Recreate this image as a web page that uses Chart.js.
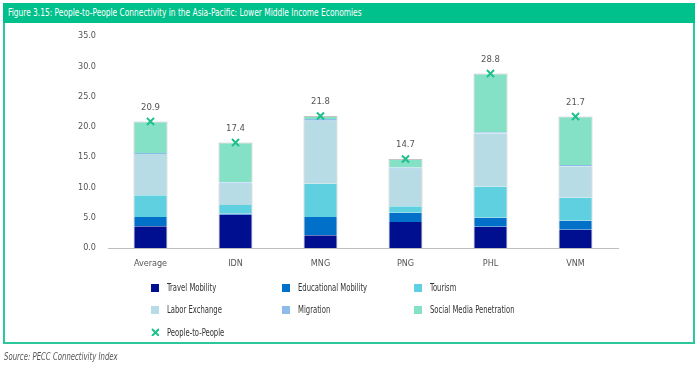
<!DOCTYPE html>
<html>
<head>
<meta charset="utf-8">
<script src="https://cdn.jsdelivr.net/npm/chart.js@4"></script>
<style>
	body { margin: 0; background: #fff; font-family: "DejaVu Sans Condensed", "Liberation Sans", sans-serif; }
	#page { position: relative; width: 700px; height: 367px; overflow: hidden; }
	#frame { position: absolute; left: 3px; top: 3px; width: 688px; height: 339px; border: 2px solid #2cc79a; border-top: none; }
	#header { position: absolute; left: 3px; top: 3px; width: 692px; height: 20px; background: #00c08b; color: #fff; font-size: 10px; line-height: 20px; padding-left: 5px; box-sizing: border-box; white-space: nowrap; }
	.squeeze { display: inline-block; transform-origin: 0 50%; }
	#chartBox { position: absolute; left: 0; top: 0; width: 700px; height: 280px; }
	#legend { position: absolute; left: 0; top: 0; width: 700px; height: 367px; pointer-events: none; }
	.item { position: absolute; font-size: 10px; color: #333; white-space: nowrap; line-height: 12px; }
	.box { position: absolute; width: 8px; height: 8px; left: 0; top: 2px; }
	.item .squeeze { position: absolute; left: 16px; top: 0; transform: scaleX(0.76); }
	#source { position: absolute; left: 4px; top: 351px; font-size: 10px; font-style: italic; color: #555; white-space: nowrap; }
</style>
</head>
<body>
<div id="page">
	<div id="frame"></div>
	<div id="header"><span class="squeeze" style="transform: scaleX(0.83)">Figure 3.15: People-to-People Connectivity in the Asia-Pacific: Lower Middle Income Economies</span></div>
	<div id="chartBox"><canvas id="chart"></canvas></div>
	<div id="legend"></div>
	<div id="source"><span class="squeeze" style="transform: scaleX(0.77)">Source: PECC Connectivity Index</span></div>
</div>
<script>
const economies = ['Average', 'IDN', 'MNG', 'PNG', 'PHL', 'VNM'];
const travelMobility = [3.6, 5.5, 2.1, 4.3, 3.5, 3.0];
const educationalMobility = [1.5, 0.2, 3.0, 1.5, 1.5, 1.5];
const tourism = [3.6, 1.4, 5.5, 1.1, 5.1, 3.8];
const laborExchange = [6.8, 3.5, 10.4, 6.2, 8.8, 5.2];
const migration = [0.2, 0.2, 0.3, 0.2, 0.2, 0.2];
const socialMedia = [5.2, 6.6, 0.5, 1.4, 9.7, 8.0];
const peopleToPeople = [20.9, 17.4, 21.8, 14.7, 28.8, 21.7];
const yTicks = [0, 5, 10, 15, 20, 25, 30, 35];

const seriesNames = ['Travel Mobility', 'Educational Mobility', 'Tourism', 'Labor Exchange', 'Migration', 'Social Media Penetration'];
const seriesData = [travelMobility, educationalMobility, tourism, laborExchange, migration, socialMedia];
const seriesColors = ['#000f8f', '#0070c9', '#5ed0e0', '#b8dce6', '#8dbceb', '#84e1c6'];
const markerColor = '#1bc08a';

const FONT = '"DejaVu Sans Condensed", "Liberation Sans", sans-serif';

let datasets = seriesNames.map(function (name, i) {
	return {
		type: 'bar',
		label: name,
		data: seriesData[i],
		backgroundColor: seriesColors[i],
		borderColor: 'rgba(190,190,190,0.9)',
		borderWidth: i === 5 ? { top: 1, left: 1, right: 1 } : { left: 1, right: 1 },
		borderSkipped: false,
		barPercentage: 0.4,
		categoryPercentage: 1,
		order: 1
	};
});
datasets.push({
	type: 'line',
	label: 'People-to-People',
	data: peopleToPeople,
	showLine: false,
	pointStyle: 'crossRot',
	pointRadius: 5,
	pointBorderWidth: 2,
	borderColor: markerColor,
	backgroundColor: markerColor,
	order: 0
});

const totalLabels = {
	id: 'totalLabels',
	afterDatasetsDraw(chart) {
		const meta = chart.getDatasetMeta(6);
		const ctx = chart.ctx;
		ctx.save();
		ctx.font = '9.5px ' + FONT;
		ctx.fillStyle = '#555';
		ctx.textAlign = 'center';
		ctx.textBaseline = 'middle';
		meta.data.forEach(function (pt, i) {
			ctx.fillText(peopleToPeople[i].toFixed(1), pt.x, pt.y - 14);
		});
		ctx.restore();
	}
};

new Chart(document.getElementById('chart'), {
	data: {
		labels: economies,
		datasets: datasets
	},
	plugins: [totalLabels],
	options: {
		responsive: true,
		maintainAspectRatio: false,
		animation: false,
		layout: { padding: { top: 36, right: 82, left: 0, bottom: 0 } },
		plugins: {
			legend: { display: false },
			tooltip: { enabled: false }
		},
		scales: {
			x: {
				stacked: true,
				grid: { display: false, drawTicks: false },
				border: { display: true, color: '#bfbfbf', width: 1 },
				ticks: { color: '#555', font: { family: FONT, size: 9 }, padding: 10 },
				afterFit: function (scale) { scale.height = 32; }
			},
			y: {
				stacked: true,
				min: 0,
				max: 35,
				afterBuildTicks: function (scale) { scale.ticks = yTicks.map(function (v) { return { value: v }; }); },
				grid: { display: false, drawTicks: false },
				border: { display: false },
				ticks: {
					color: '#555',
					font: { family: FONT, size: 9 },
					padding: 12,
					callback: function (v) { return Number(v).toFixed(1); }
				},
				afterFit: function (scale) { scale.width = 108; }
			}
		}
	}
});

// legend in three columns like the original figure
const legendCols = [151, 282, 414];
const legendRows = [282, 304, 327];
let legendHtml = '';
seriesNames.forEach(function (name, i) {
	const x = legendCols[i % 3];
	const y = legendRows[Math.floor(i / 3)];
	legendHtml += '<div class="item" style="left:' + x + 'px;top:' + y + 'px"><div class="box" style="background:' + seriesColors[i] + '"></div><span class="squeeze">' + name + '</span></div>';
});
legendHtml += '<div class="item" style="left:' + legendCols[0] + 'px;top:' + legendRows[2] + 'px">' +
	'<svg class="box" width="9" height="9" style="top:1px"><path d="M1 1L8 8M8 1L1 8" stroke="' + markerColor + '" stroke-width="2"/></svg>' +
	'<span class="squeeze">People-to-People</span></div>';
document.getElementById('legend').innerHTML = legendHtml;
</script>
</body>
</html>
